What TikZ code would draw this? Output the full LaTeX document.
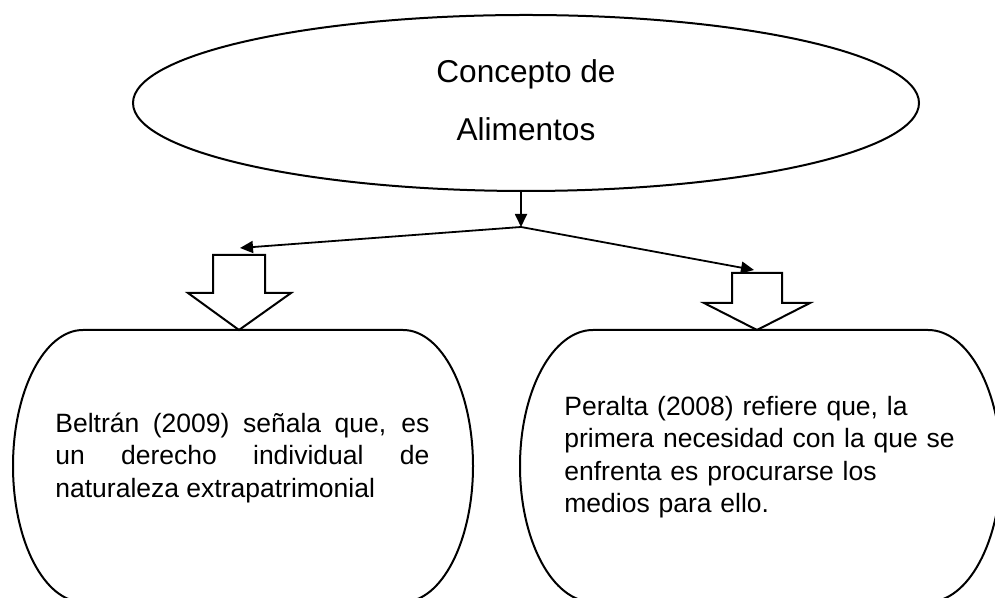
\documentclass[tikz,border=0pt]{standalone}
\usepackage{fontspec}
\setmainfont{Liberation Sans}
\usetikzlibrary{shapes.geometric,arrows.meta}
\hbadness=10000

\begin{document}
\begin{tikzpicture}[x=0.5pt,y=0.5pt,
    every node/.style={inner sep=0pt},
    concept/.style={draw, shape=ellipse, line width=1pt, minimum width=393pt,
      minimum height=88pt, align=center, text depth=3pt,
      font=\fontsize{15.8}{29}\selectfont},
    citebox/.style={anchor=north west, font=\fontsize{13.25}{16.25}\selectfont},
    outline/.style={line width=1pt},
    link/.style={-{Triangle[length=6.5pt,width=6pt]}, line width=0.9pt}]
  \path[use as bounding box, clip] (0,0) rectangle (995,598);
  \node (concept) [concept] at (526,495) {Concepto de\\Alimentos};
  \coordinate (J) at (521,371);
  \coordinate (larrow) at (240,350);
  \coordinate (rarrow) at (754,328);
  % block arrows
  \draw[outline] (213,343) -- (265,343) -- (265,305) -- (291,305) -- (239,268)
    -- (188,305) -- (213,305) -- cycle;
  \draw[outline] (732,325) -- (782,325) -- (782,295) -- (810,295) -- (757,268)
    -- (704,295) -- (732,295) -- cycle;
  % boxes
  \draw[outline] (83,268) -- (403,268)
    arc[start angle=90, end angle=-90, x radius=70, y radius=136] -- (83,-4)
    arc[start angle=270, end angle=90, x radius=70, y radius=136] -- cycle;
  \draw[outline] (593,268) -- (928,268)
    arc[start angle=90, end angle=-90, x radius=73, y radius=136] -- (593,-4)
    arc[start angle=270, end angle=90, x radius=73, y radius=136] -- cycle;
  \node (beltran) [citebox, align=justify, text width=187pt] at (55,189)
    {\strut Beltrán (2009) señala que, es\linebreak un derecho individual de\linebreak naturaleza extrapatrimonial};
  \node (peralta) [citebox, align=left, text width=215pt] at (564,206)
    {\strut Peralta (2008) refiere que, la\\primera necesidad con la que se\\enfrenta es procurarse los\\medios para ello.};
  \draw[link] (J |- concept.south) -- (J);
  \draw[link] (J) -- (larrow);
  \draw[link] (J) -- (rarrow);
\end{tikzpicture}
\end{document}
